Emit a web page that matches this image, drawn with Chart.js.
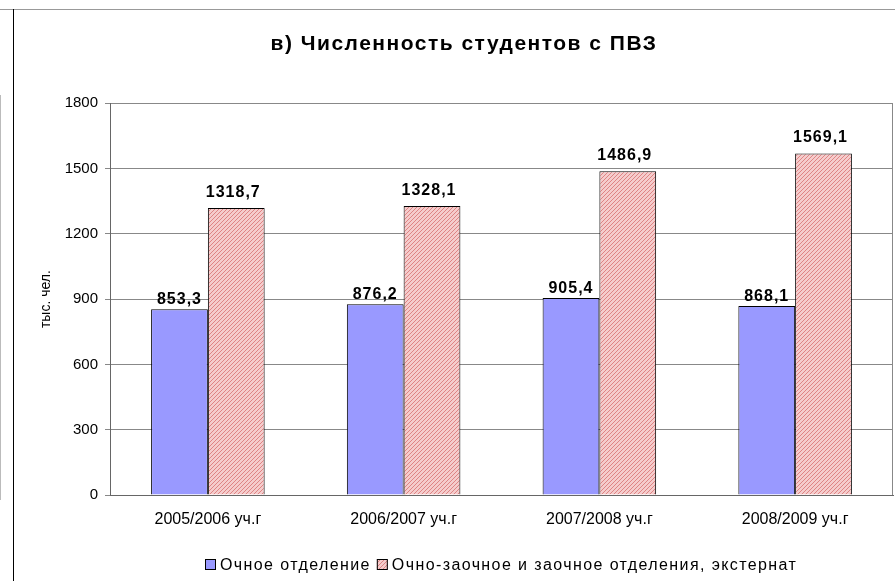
<!DOCTYPE html>
<html>
<head>
<meta charset="utf-8">
<script src="https://cdn.jsdelivr.net/npm/chart.js@4.4.0/dist/chart.umd.min.js"></script>
<style>
html,body{margin:0;padding:0;background:#fff;}
#wrap{position:relative;width:895px;height:581px;overflow:hidden;background:#fff;}
#c{position:absolute;left:0;top:0;}
.frameTop{position:absolute;left:0;top:9px;width:895px;height:1px;background:#999;}
.frameLeft{position:absolute;left:13px;top:9px;width:1px;height:572px;background:#000;}
.ghost{position:absolute;left:0;top:95px;width:1px;height:405px;background:#bbb;}
</style>
</head>
<body>
<div id="wrap">
  <canvas id="c" width="895" height="581"></canvas>
  <div class="frameTop"></div>
  <div class="frameLeft"></div>
  <div class="ghost"></div>
</div>
<script>
// ---- data ----
const categories = ['2005/2006 уч.г', '2006/2007 уч.г', '2007/2008 уч.г', '2008/2009 уч.г'];
const fullTime = [853.3, 876.2, 905.4, 868.1];
const partTime = [1318.7, 1328.1, 1486.9, 1569.1];
const seriesNames = ['Очное отделение', 'Очно-заочное и заочное отделения, экстернат'];
const yTicks = [0, 300, 600, 900, 1200, 1500, 1800];
const titleText = 'в) Численность студентов с ПВЗ';
const yTitle = 'тыс. чел.';

const FONT = '"Liberation Sans", Arial, sans-serif';
Chart.defaults.font.family = FONT;
Chart.defaults.color = '#000';

const canvas = document.getElementById('c');
const ctx = canvas.getContext('2d');

function hatch() {
  const t = document.createElement('canvas');
  t.width = 4; t.height = 4;
  const g = t.getContext('2d');
  g.fillStyle = '#f5cccc';
  g.fillRect(0, 0, 4, 4);
  g.strokeStyle = '#de8484';
  g.lineWidth = 1;
  g.beginPath();
  g.moveTo(0, 4); g.lineTo(4, 0);
  g.moveTo(-1, 1); g.lineTo(1, -1);
  g.moveTo(3, 5); g.lineTo(5, 3);
  g.stroke();
  return ctx.createPattern(t, 'repeat');
}
const pinkPattern = hatch();

const spacingPlugin = {
  id: 'spacing',
  afterLayout(chart) {
    const tb = chart.titleBlock;
    if (tb && !tb._ls) {
      const o = tb.draw;
      tb.draw = function () {
        const c = this.ctx; c.save(); c.letterSpacing = '1.5px';
        o.apply(this, arguments); c.restore();
      };
      tb._ls = true;
    }
  }
};

const frameRight = {
  id: 'frameRight',
  beforeDatasetsDraw(chart) {
    const a = chart.chartArea, c = chart.ctx;
    c.save();
    c.strokeStyle = '#888';
    c.lineWidth = 1;
    c.beginPath();
    c.moveTo(Math.round(a.right) - 0.5, a.top);
    c.lineTo(Math.round(a.right) - 0.5, a.bottom);
    c.stroke();
    c.restore();
  }
};

const labelOffsets = [5, 11];
const valueLabels = {
  id: 'valueLabels',
  afterDatasetsDraw(chart) {
    const c = chart.ctx;
    c.save();
    c.font = 'bold 16px ' + FONT;
    c.letterSpacing = '1px';
    c.fillStyle = '#000';
    c.textAlign = 'center';
    c.textBaseline = 'alphabetic';
    chart.data.datasets.forEach((ds, i) => {
      chart.getDatasetMeta(i).data.forEach((bar, j) => {
        const t = ds.data[j].toFixed(1).replace('.', ',');
        c.fillText(t, bar.x - (i === 1 ? 3 : 0), bar.y - labelOffsets[i]);
      });
    });
    c.restore();
  }
};

const customLegend = {
  id: 'customLegend',
  afterDraw(chart) {
    const c = chart.ctx;
    c.save();
    c.font = '16px ' + FONT;
    c.letterSpacing = '1.4px';
    c.textBaseline = 'middle';
    c.textAlign = 'left';
    let x = 205;
    const y = 565;
    chart.data.datasets.forEach((ds) => {
      c.fillStyle = ds.backgroundColor;
      c.fillRect(x, y - 6, 11, 11);
      c.strokeStyle = '#000';
      c.lineWidth = 1;
      c.strokeRect(x + 0.5, y - 5.5, 10, 10);
      c.fillStyle = '#000';
      c.fillText(ds.label, x + 15, y + 1);
      x += 15 + c.measureText(ds.label).width + 6;
    });
    c.restore();
  }
};

new Chart(canvas, {
  type: 'bar',
  data: {
    labels: categories,
    datasets: [
      { label: seriesNames[0], data: fullTime, backgroundColor: '#9999ff', borderColor: '#000', borderWidth: 1 },
      { label: seriesNames[1], data: partTime, backgroundColor: pinkPattern, borderColor: '#000', borderWidth: 1 }
    ]
  },
  options: {
    responsive: false,
    animation: false,
    devicePixelRatio: 1,
    categoryPercentage: 0.58,
    barPercentage: 1.0,
    layout: { padding: { left: 35, right: 2, top: 0, bottom: 40 } },
    plugins: {
      legend: { display: false },
      tooltip: { enabled: false },
      title: {
        display: true,
        text: titleText,
        color: '#000',
        font: { size: 21, weight: 'bold', family: FONT },
        padding: { top: 32, bottom: 46 }
      }
    },
    scales: {
      x: {
        grid: { display: false },
        border: { color: '#666' },
        ticks: { font: { size: 16 }, color: '#000', padding: 7, maxRotation: 0 },
        afterFit(s) { s.height = 46; }
      },
      y: {
        min: 0, max: 1800,
        afterBuildTicks(s) { s.ticks = yTicks.map(v => ({ value: v })); },
        ticks: { font: { size: 15 }, color: '#000', padding: 7, callback: v => String(v) },
        grid: { color: '#888', tickLength: 5, drawTicks: true },
        border: { color: '#666' },
        title: { display: true, text: yTitle, color: '#000', font: { size: 14 }, padding: { top: 3, bottom: 0 } },
        afterFit(s) { s.width = 75; }
      }
    }
  },
  plugins: [spacingPlugin, frameRight, valueLabels, customLegend]
});
</script>
</body>
</html>
